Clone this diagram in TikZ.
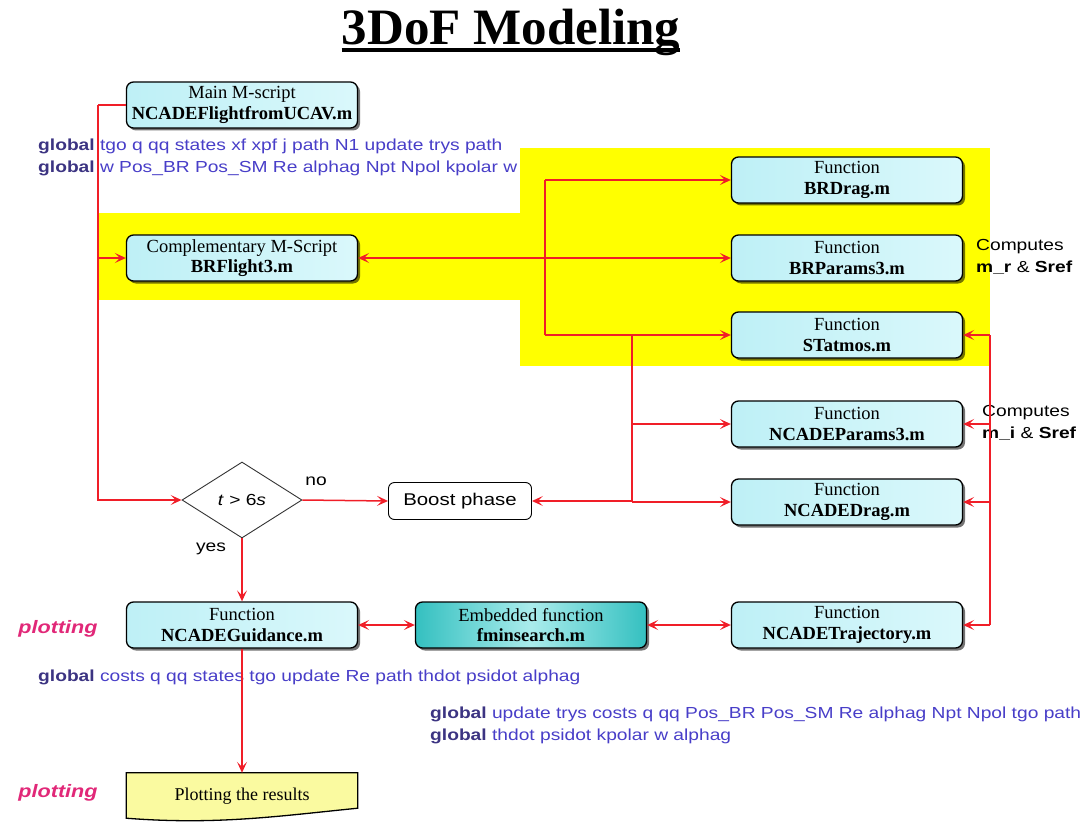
\documentclass[tikz,border=0pt]{standalone}
\usepackage{fontspec}
\setmainfont{Liberation Serif}
\newfontfamily\gsans[FakeStretch=1.2]{Liberation Sans}
\usetikzlibrary{shapes.geometric,shadows,arrows.meta,backgrounds,calc}
\definecolor{redline}{RGB}{240,30,40}
\definecolor{globdark}{RGB}{60,52,130}
\definecolor{globtext}{RGB}{72,62,200}
\definecolor{plotmag}{RGB}{225,40,120}
\definecolor{boxleft}{RGB}{190,240,246}
\definecolor{boxright}{RGB}{218,248,251}
\definecolor{tealA}{RGB}{52,192,192}
\definecolor{tealB}{RGB}{170,236,236}
\definecolor{yellowbg}{RGB}{255,255,0}
\definecolor{docyellow}{RGB}{250,250,160}
\tikzset{
  fbox/.style={draw=black, line width=1.3pt, rounded corners=7pt, minimum width=231pt,
    minimum height=46pt, inner sep=0pt, align=center, left color=boxleft, right color=boxright,
    drop shadow={shadow xshift=2.5pt, shadow yshift=-2.5pt, opacity=0.55, fill=black},
    font=\fontsize{18.5}{20.5}\selectfont},
  tealbox/.style={fbox, left color=tealA, right color=tealA, middle color=tealB},
  redl/.style={draw=redline, line width=1.5pt},
  arr/.style={redl, -{Stealth[length=11pt,width=10pt,inset=5pt]}},
  arrr/.style={redl, {Stealth[length=11pt,width=10pt,inset=5pt]}-{Stealth[length=11pt,width=10pt,inset=5pt]}},
  gtxt/.style={anchor=west, inner sep=0pt, align=left, text=globtext,
    font=\gsans\fontsize{16}{22}\selectfont},
  lbl/.style={inner sep=0pt, font=\gsans\fontsize{16}{22}\selectfont},
  plotlbl/.style={inner sep=0pt, text=plotmag, font=\gsans\fontsize{18}{20}\selectfont\bfseries\itshape},
}
\newcommand{\gl}{\textcolor{globdark}{\bfseries global}}
\begin{document}
\begin{tikzpicture}[x=1pt,y=-1pt]
\useasboundingbox (0,0) rectangle (1089,829);
% yellow backgrounds
\fill[yellowbg] (98,213) rectangle (520,300);
\fill[yellowbg] (520,148) rectangle (990,366);

% title
\node[anchor=base, inner sep=0pt, font=\fontsize{51}{55}\selectfont\bfseries] (title) at (511,45) {3DoF Modeling};
\draw[line width=3.2pt] ([yshift=-5pt]title.base west) -- ([yshift=-5pt]title.base east);

% boxes
\node[fbox] (main) at (242,105) {Main M-script\\\textbf{NCADEFlightfromUCAV.m}};
\node[fbox] (brf) at (242,258) {Complementary M-Script\\\textbf{BRFlight3.m}};
\node[fbox] (brd) at (847,180) {Function\\\textbf{BRDrag.m}};
\node[fbox] (brp) at (847,258) {Function\\\textbf{BRParams3.m}};
\node[fbox] (sta) at (847,335) {Function\\\textbf{STatmos.m}};
\node[fbox] (npar) at (847,424) {Function\\\textbf{NCADEParams3.m}};
\node[fbox] (ndrag) at (847,502) {Function\\\textbf{NCADEDrag.m}};
\node[fbox] (traj) at (847,625) {Function\\\textbf{NCADETrajectory.m}};
\node[tealbox] (fmin) at (531,625) {Embedded function\\\textbf{fminsearch.m}};
\node[fbox] (guid) at (242,625) {Function\\\textbf{NCADEGuidance.m}};

\node[diamond, draw=black!80, line width=0.9pt, fill=white, minimum width=120pt, minimum height=76pt,
  inner sep=0pt, font=\gsans\fontsize{16}{18}\selectfont] (dia) at (242,500) {\textit{t} > 6\textit{s}};
\node[draw=black, line width=0.9pt, rounded corners=6pt, fill=white, minimum width=143pt, minimum height=37pt,
  inner sep=0pt, font=\gsans\fontsize{17}{19}\selectfont] (boost) at (460,501) {Boost phase};

% plotting results (document shape)
\node[minimum width=231pt, minimum height=46pt, inner sep=0pt, font=\fontsize{18}{20}\selectfont] (res) at (242,796) {Plotting the results};
\begin{scope}[on background layer]
\fill[black, opacity=0.6, shift={(3pt,-3.5pt)}] (res.north west) -- (res.north east) -- ($(res.south east)+(0,-11)$)
  .. controls ($(res.south east)+(-80,-3)$) and ($(res.south west)+(90,6)$) .. ($(res.south west)+(0,-1)$) -- cycle;
\draw[line width=1.3pt, fill=docyellow] (res.north west) -- (res.north east) -- ($(res.south east)+(0,-11)$)
  .. controls ($(res.south east)+(-80,-3)$) and ($(res.south west)+(90,6)$) .. ($(res.south west)+(0,-1)$) -- cycle;
\end{scope}

% texts
\node[gtxt] (g1) at (38,157) {\gl{} tgo q qq states xf xpf j path N1 update trys path\\\gl{} w Pos\_BR Pos\_SM Re alphag Npt Npol kpolar w};
\node[gtxt] (g2) at (38,677) {\gl{} costs q qq states tgo update Re path thdot psidot alphag};
\node[gtxt] (g3) at (430,725) {\gl{} update trys costs q qq Pos\_BR Pos\_SM Re alphag Npt Npol tgo path\\\gl{} thdot psidot kpolar w alphag};
\node[lbl, anchor=west, align=left] (c1) at (976,257) {Computes\\\textbf{m\_r} \& \textbf{Sref}};
\node[lbl, anchor=west, align=left] (c2) at (982,423) {Computes\\\textbf{m\_i} \& \textbf{Sref}};
\node[lbl] (no) at (316,481) {no};
\node[lbl] (yes) at (211,549) {yes};
\node[plotlbl] (p1) at (58,629) {plotting};
\node[plotlbl] (p2) at (58,793) {plotting};

% connectors
\coordinate (bL) at (98,0);
\coordinate (b1) at (545,0);
\coordinate (b2) at (632,0);
\coordinate (b3) at (990,0);
\draw[redl] (main.west) -- (bL |- main.west);
\draw[arr] (bL |- main.west) |- (dia.west);
\draw[arr] (bL |- brf.west) -- (brf.west);
\draw[arrr] (brf.east) -- (brp.west);
\draw[redl] (b1 |- brd.west) -- (b1 |- sta.west);
\draw[arr] (b1 |- brd.west) -- (brd.west);
\draw[arr] (b1 |- sta.west) -- (sta.west);
\draw[redl] (b2 |- sta.west) -- (b2 |- ndrag.west);
\draw[arr] (b2 |- npar.west) -- (npar.west);
\draw[arr] (b2 |- ndrag.west) -- (ndrag.west);
\draw[arr] (b2 |- boost.east) -- (boost.east);
\draw[arr] (dia.east) -- (boost.west);
\draw[arr] (dia.south) -- (guid.north);
\draw[arr] (guid.south) -- (res.north);
\draw[arrr] (guid.east) -- (fmin.west);
\draw[arrr] (fmin.east) -- (traj.west);
\draw[redl] (b3 |- traj.east) -- (b3 |- sta.east);
\draw[arr] (b3 |- traj.east) -- (traj.east);
\draw[arr] (b3 |- sta.east) -- (sta.east);
\draw[arr] (b3 |- npar.east) -- (npar.east);
\draw[arr] (b3 |- ndrag.east) -- (ndrag.east);
\end{tikzpicture}
\end{document}
